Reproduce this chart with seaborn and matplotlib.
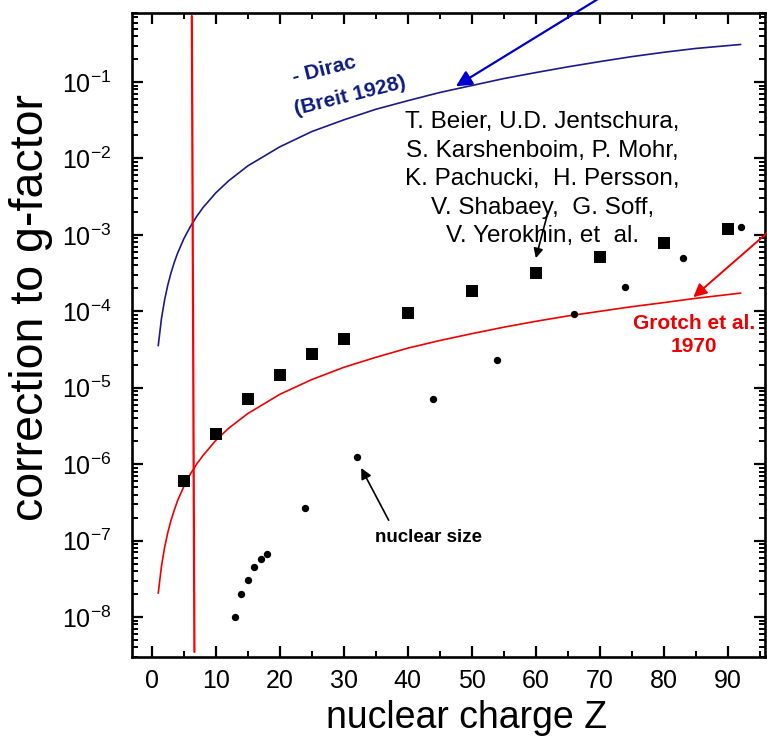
import numpy as np
import pandas as pd
import matplotlib
matplotlib.use("Agg")
import matplotlib.pyplot as plt
import seaborn as sns
from matplotlib.ticker import MultipleLocator, LogLocator, NullFormatter

# ---------------- data ----------------
curve_z = [1, 1.5, 2, 2.5, 3, 3.5, 4, 5, 6, 7, 8, 10, 12, 15, 20, 25, 30, 35, 40,
           45, 50, 55, 60, 65, 70, 75, 80, 85, 92]
dirac_vals = [3.55e-5, 8.0e-5, 1.42e-4, 2.22e-4, 3.2e-4, 4.35e-4, 5.7e-4, 8.9e-4,
              1.28e-3, 1.74e-3, 2.28e-3, 3.55e-3, 5.1e-3, 8.0e-3, 1.42e-2, 2.25e-2,
              3.2e-2, 4.4e-2, 5.7e-2, 7.3e-2, 9.0e-2, 0.111, 0.133, 0.158, 0.185,
              0.215, 0.245, 0.275, 0.31]
grotch_vals = [2.05e-8, 4.6e-8, 8.2e-8, 1.28e-7, 1.85e-7, 2.5e-7, 3.3e-7, 5.1e-7,
               7.4e-7, 1.0e-6, 1.3e-6, 2.05e-6, 2.95e-6, 4.6e-6, 8.2e-6, 1.28e-5,
               1.85e-5, 2.5e-5, 3.3e-5, 4.15e-5, 5.1e-5, 6.2e-5, 7.4e-5, 8.7e-5,
               1.0e-4, 1.15e-4, 1.3e-4, 1.48e-4, 1.73e-4]

square_z = [5, 10, 15, 20, 25, 30, 40, 50, 60, 70, 80, 90]
square_vals = [6.0e-7, 2.5e-6, 7.1e-6, 1.48e-5, 2.73e-5, 4.33e-5, 9.5e-5,
               1.84e-4, 3.13e-4, 5.07e-4, 7.75e-4, 1.18e-3]

nuc_z = [13, 14, 15, 16, 17, 18, 24, 32, 44, 54, 66, 74, 83, 92]
nuc_vals = [1.0e-8, 2.03e-8, 3.03e-8, 4.53e-8, 5.66e-8, 6.78e-8, 2.68e-7,
            1.25e-6, 7.1e-6, 2.3e-5, 9.1e-5, 2.06e-4, 5.0e-4, 1.28e-3]

vline_z = [6.25, 6.65]
vline_vals = [0.73, 3.5e-9]

x_ticks = [0, 10, 20, 30, 40, 50, 60, 70, 80, 90]
y_ticks = [1e-8, 1e-7, 1e-6, 1e-5, 1e-4, 1e-3, 1e-2, 1e-1]
y_tick_labels = ["$10^{-8}$", "$10^{-7}$", "$10^{-6}$", "$10^{-5}$",
                 "$10^{-4}$", "$10^{-3}$", "$10^{-2}$", "$10^{-1}$"]

authors = ("T. Beier, U.D. Jentschura,\nS. Karshenboim, P. Mohr,\n"
           "K. Pachucki,  H. Persson,\nV. Shabaey,  G. Soff,\nV. Yerokhin, et  al.")

# ---------------- style ----------------
sns.set_style("ticks")
plt.rcParams['font.family'] = ['Liberation Sans', 'DejaVu Sans']
plt.rcParams['mathtext.fontset'] = 'custom'
plt.rcParams['mathtext.rm'] = 'Liberation Sans'
plt.rcParams['mathtext.it'] = 'Liberation Sans:italic'
plt.rcParams['mathtext.bf'] = 'Liberation Sans:bold'
plt.rcParams['axes.unicode_minus'] = False
plt.rcParams['text.color'] = 'black'
plt.rcParams['axes.labelcolor'] = 'black'

fig = plt.figure(figsize=(7.67, 7.42), dpi=100)
ax = fig.add_axes([132 / 767, 1 - 657 / 742, (765 - 132) / 767, (657 - 13) / 742])

df_curves = pd.DataFrame({"Z": curve_z, "dirac": dirac_vals, "grotch": grotch_vals})
df_sq = pd.DataFrame({"Z": square_z, "v": square_vals})
df_nuc = pd.DataFrame({"Z": nuc_z, "v": nuc_vals})
df_vl = pd.DataFrame({"Z": vline_z, "v": vline_vals})

sns.lineplot(data=df_curves, x="Z", y="dirac", ax=ax, color="#1a1a8c",
             lw=1.2, estimator=None, sort=False)
sns.lineplot(data=df_curves, x="Z", y="grotch", ax=ax, color="#ee0000",
             lw=1.2, estimator=None, sort=False)
sns.lineplot(data=df_vl, x="Z", y="v", ax=ax, color="#ff0000",
             lw=1.6, estimator=None, sort=False)
sns.scatterplot(data=df_sq, x="Z", y="v", ax=ax, marker="s", s=70,
                color="black", linewidth=0, zorder=5)
sns.scatterplot(data=df_nuc, x="Z", y="v", ax=ax, marker="o", s=28,
                color="black", linewidth=0, zorder=5)

ax.set_yscale("log")
ax.set_xlim(-3.1, 95.8)
ax.set_ylim(3.0e-9, 0.80)

ax.set_xticks(x_ticks)
ax.xaxis.set_minor_locator(MultipleLocator(5))
ax.set_yticks(y_ticks)
ax.set_yticklabels(y_tick_labels)
ax.yaxis.set_minor_locator(LogLocator(base=10, subs=np.arange(2, 10), numticks=20))
ax.yaxis.set_minor_formatter(NullFormatter())

for s in ax.spines.values():
    s.set_linewidth(1.9)
    s.set_color("black")

ax.tick_params(axis="both", which="major", direction="in", length=7.7, width=1.6,
               top=True, right=True, labelsize=18, colors="black")
ax.tick_params(axis="both", which="minor", direction="in", length=4.3, width=1.4,
               top=True, right=True, colors="black")
ax.tick_params(axis="y", which="major", pad=15)
ax.tick_params(axis="x", which="major", pad=9)

ax.set_xlabel("nuclear charge Z", fontsize=27, va="center", color="black")
ax.set_ylabel("correction to g-factor", fontsize=33.5, va="center", color="black")
ax.xaxis.set_label_coords(0.529, -0.094)
ax.yaxis.set_label_coords(-0.16, 0.542)

# ---------------- annotations ----------------
ax.text(27.0, 0.1436, "- Dirac", color="#0a1a80", fontsize=15, fontweight="bold",
        rotation=14, ha="center", va="center", rotation_mode="anchor")
ax.text(30.95, 0.0656, "(Breit 1928)", color="#0a1a80", fontsize=15, fontweight="bold",
        rotation=14, ha="center", va="center", rotation_mode="anchor")

ax.annotate("", xy=(47.5, 0.088), xytext=(72, 1.6), xycoords="data", textcoords="data",
            annotation_clip=False,
            arrowprops=dict(arrowstyle="-|>", color="#0000cc", lw=1.6,
                            mutation_scale=24, shrinkA=0, shrinkB=0))

ax.text(61.0, 5.37e-3, authors, fontsize=17.5, ha="center", va="center",
        multialignment="center", linespacing=1.38, color="black")
ax.annotate("", xy=(60.0, 4.97e-4), xytext=(61.9, 2.0e-3),
            arrowprops=dict(arrowstyle="-|>", color="black", lw=1.2,
                            mutation_scale=14, shrinkA=0, shrinkB=0))

ax.text(43.3, 1.11e-7, "nuclear size", fontsize=13.5, fontweight="bold",
        ha="center", va="center", color="black")
ax.annotate("", xy=(32.7, 8.9e-7), xytext=(37.0, 1.85e-7),
            arrowprops=dict(arrowstyle="-|>", color="black", lw=1.2,
                            mutation_scale=16, shrinkA=0, shrinkB=0))

ax.text(84.7, 4.9e-5, "Grotch et al.\n1970", fontsize=15, fontweight="bold",
        ha="center", va="center", multialignment="center", color="#ee0000",
        linespacing=1.3)
ax.annotate("", xy=(84.6, 1.53e-4), xytext=(99.7, 1.93e-3), annotation_clip=False,
            arrowprops=dict(arrowstyle="-|>", color="#ee0000", lw=1.4,
                            mutation_scale=20, shrinkA=0, shrinkB=0))

fig.savefig("out.png", dpi=100)
